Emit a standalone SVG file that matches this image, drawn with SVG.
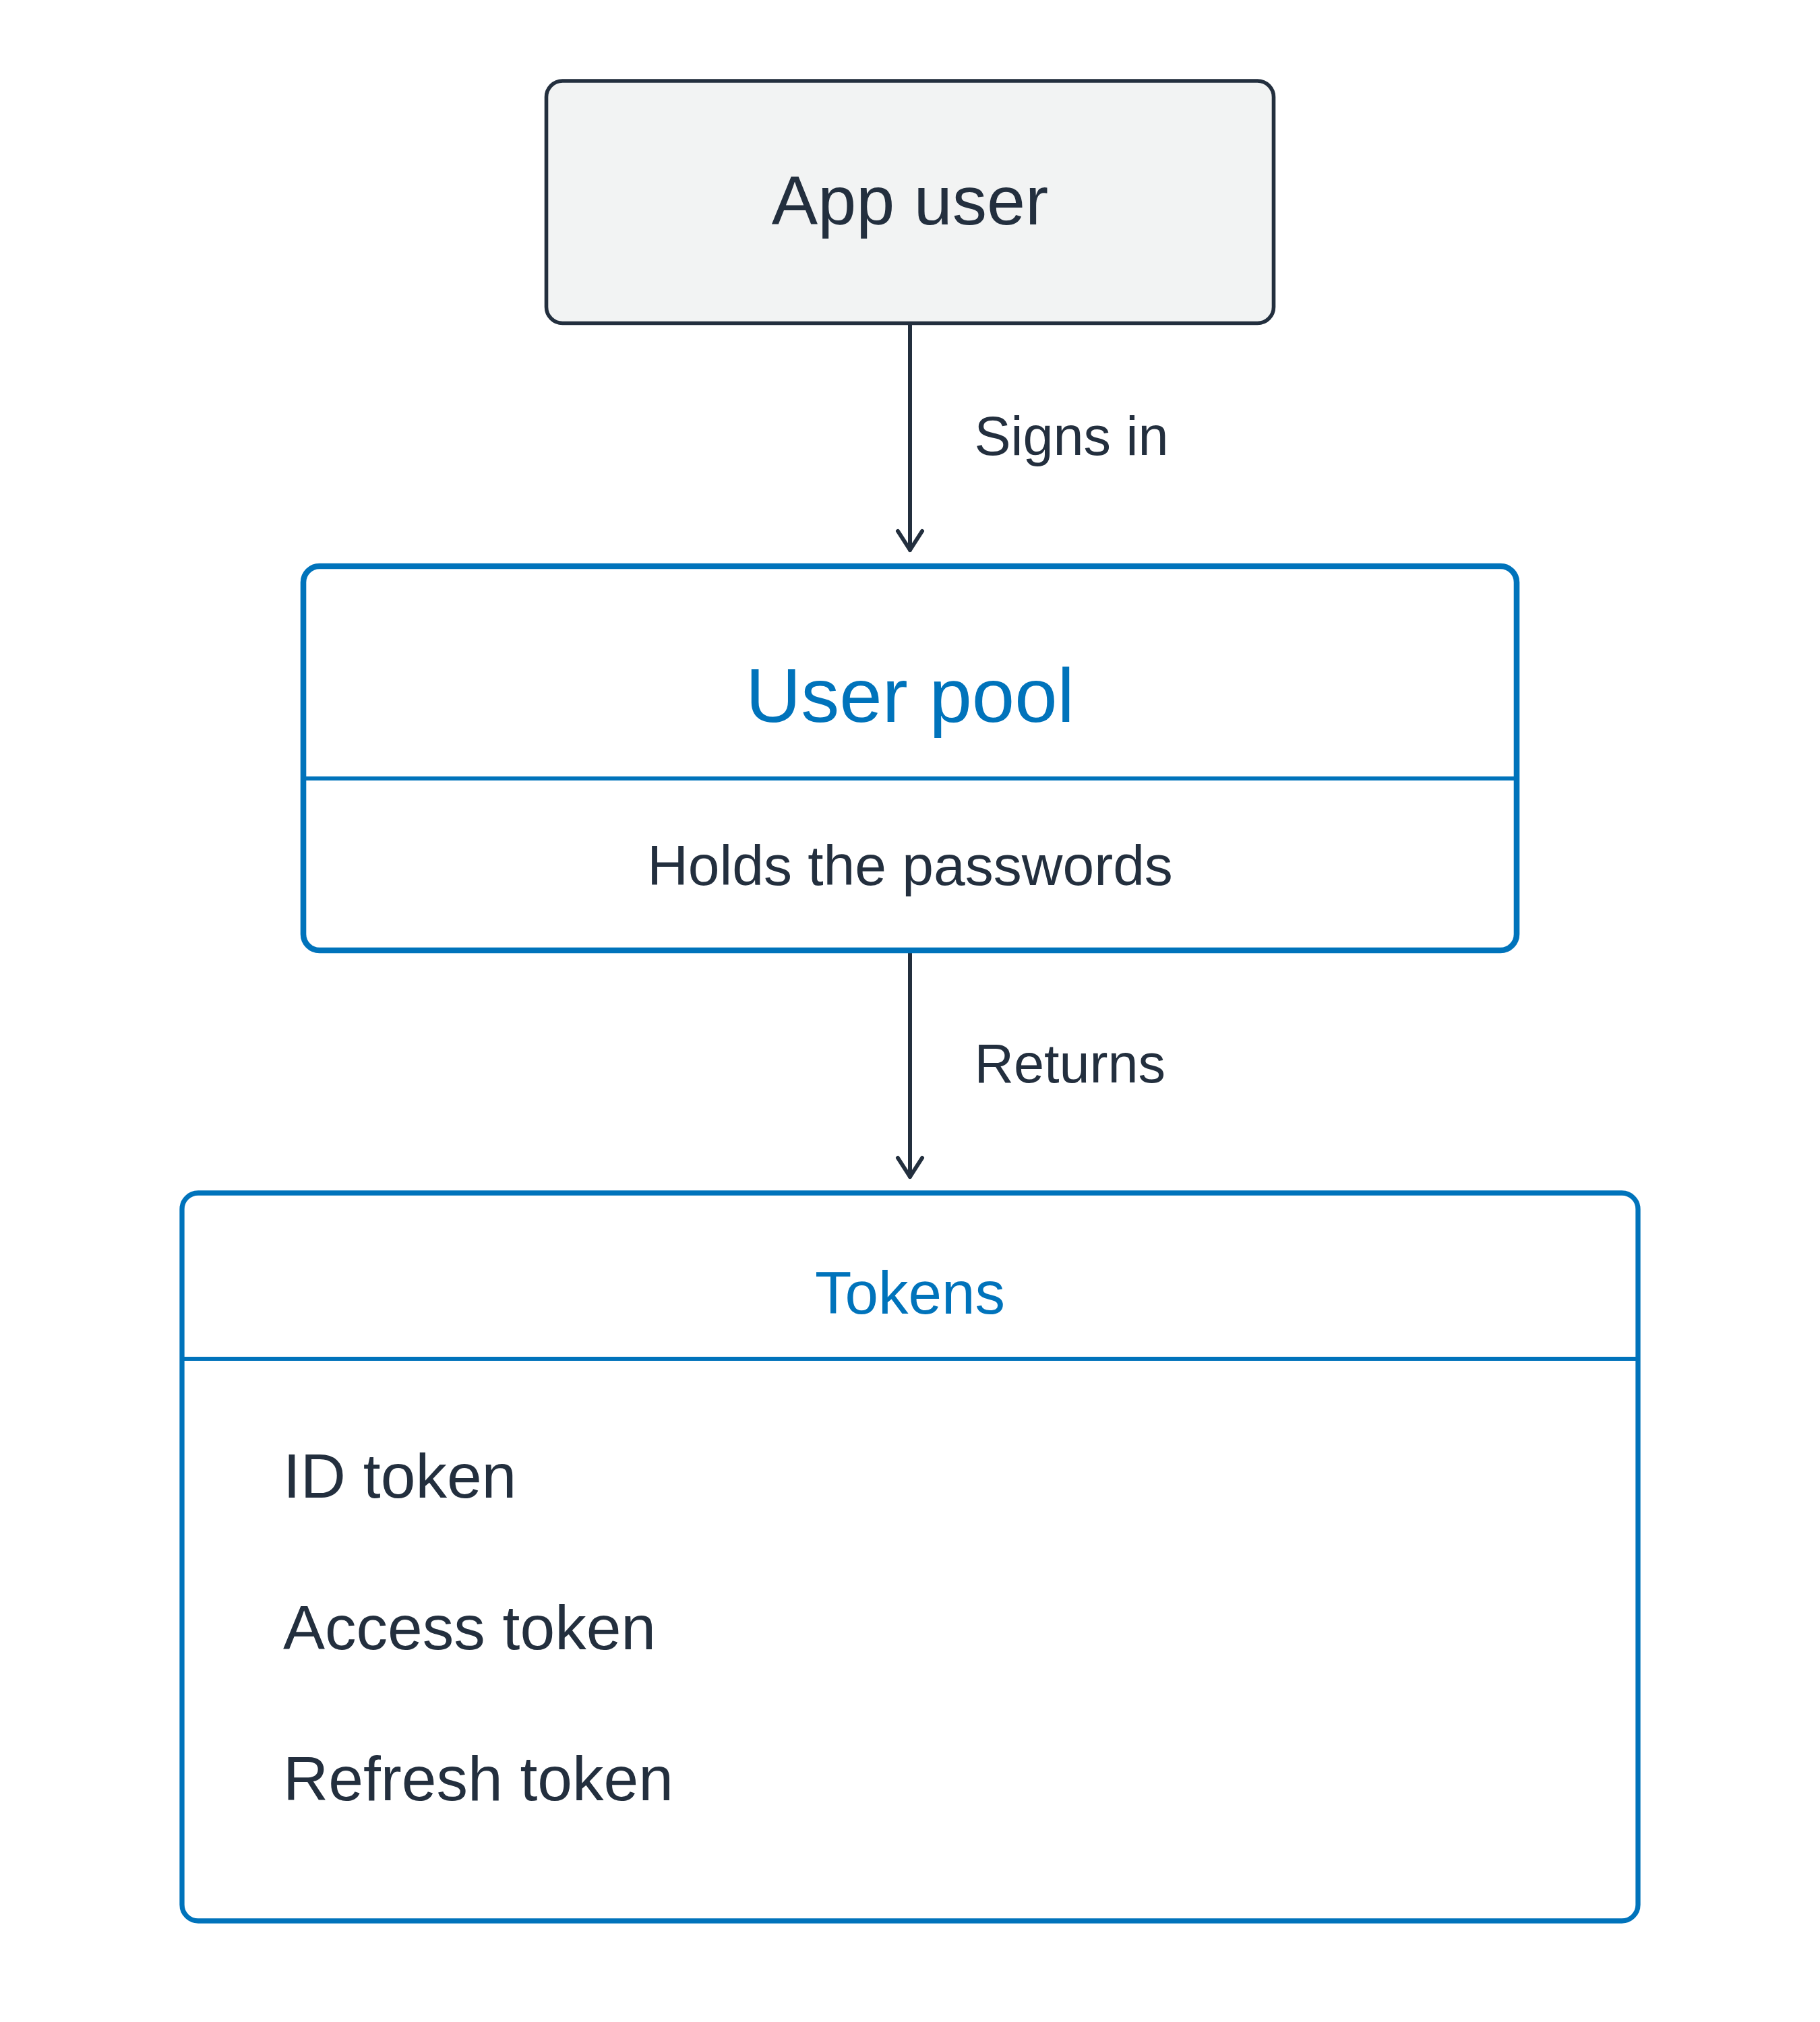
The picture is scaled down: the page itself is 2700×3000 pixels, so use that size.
<svg xmlns="http://www.w3.org/2000/svg" width="2700" height="3000" viewBox="0 0 2700 3000">
  <style>
    text { font-family: "Liberation Sans", Arial, sans-serif; fill: #232f3e; }
    .blue { fill: #0073bb; }
    .mid { text-anchor: middle; }
    .conn { stroke: #232f3e; stroke-width: 6; fill: none; stroke-linecap: round; stroke-linejoin: round; }
    .div { stroke: #0073bb; stroke-width: 6; }
  </style>
  <rect width="2700" height="3000" fill="#ffffff"/>
  <g id="connectors">
    <g id="edge-signs-in">
      <line class="conn" x1="1350" y1="480" x2="1350" y2="816" stroke-linecap="butt"/>
      <polyline class="conn" points="1332,788 1350,816 1368,788"/>
      <text x="1445.5" y="675" font-size="81">Signs in</text>
    </g>
    <g id="edge-returns">
      <line class="conn" x1="1350" y1="1410" x2="1350" y2="1746" stroke-linecap="butt"/>
      <polyline class="conn" points="1332,1718 1350,1746 1368,1718"/>
      <text x="1445.5" y="1605.5" font-size="81">Returns</text>
    </g>
  </g>
  <g id="app-user">
    <rect x="810.5" y="120" width="1079" height="359.5" rx="24" fill="#f2f3f3" stroke="#232f3e" stroke-width="5.6"/>
    <text class="mid" x="1350" y="332.6" font-size="102.5">App user</text>
  </g>
  <g id="user-pool">
    <rect x="450" y="840" width="1800" height="570" rx="24" fill="#ffffff" stroke="#0073bb" stroke-width="8.6"/>
    <line class="div" x1="450" y1="1155" x2="2250" y2="1155"/>
    <text class="mid blue" x="1350" y="1071" font-size="114">User pool</text>
    <text class="mid" x="1350" y="1313" font-size="84">Holds the passwords</text>
  </g>
  <g id="tokens">
    <rect x="270" y="1770" width="2160" height="1080" rx="24" fill="#ffffff" stroke="#0073bb" stroke-width="7.3"/>
    <line class="div" x1="270" y1="2016" x2="2430" y2="2016"/>
    <text class="mid blue" x="1350" y="1949" font-size="89">Tokens</text>
    <text x="420" y="2222" font-size="93">ID token</text>
    <text x="420" y="2447" font-size="93">Access token</text>
    <text x="420" y="2671" font-size="93">Refresh token</text>
  </g>
</svg>
